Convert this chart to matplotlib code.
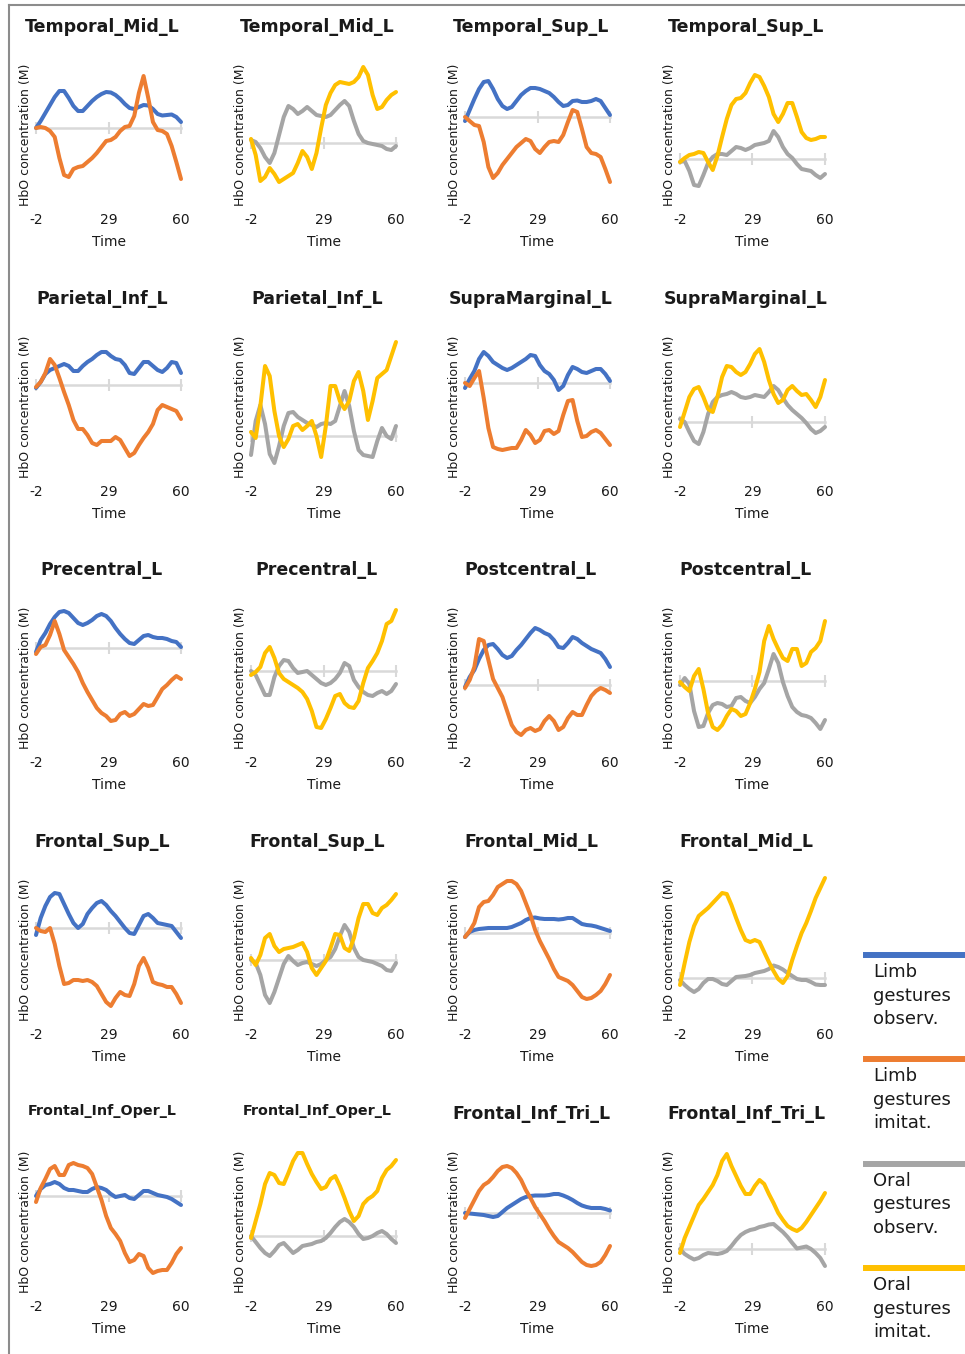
import numpy as np
import matplotlib
matplotlib.use("Agg")
import matplotlib.pyplot as plt
from matplotlib.lines import Line2D

# -----------------------------------------------------------------------------
# Data: HbO time courses (relative units), sampled every 2 s from -2 to 60 s
# -----------------------------------------------------------------------------

time = np.arange(-2, 61, 2)

temporal_mid_limb_obs = [0, 7, 15, 23, 31, 37, 37, 30, 22, 17, 17, 22, 27, 31, 34, 36,
                         35.5, 33, 29, 24, 20, 19, 21, 23, 22.5, 19, 14, 12.5, 13, 13.5, 11, 6]
temporal_mid_limb_imit = [0, 1, 0, -3, -9, -30, -47, -49, -41, -39, -38, -34, -30, -25, -19, -13,
                          -12, -9, -3, 1, 2, 12, 35, 52, 30, 6, -2, -3, -6, -18, -34, -51]
temporal_mid_oral_obs = [3, 1, -5, -14, -20, -10, 8, 26, 37, 34, 29, 32, 36, 32, 28, 27,
                         26, 28, 33, 38, 42, 37, 22, 9, 2, 0, -1, -2, -3, -6, -7, -3]
temporal_mid_oral_imit = [4, -12, -38, -34, -25, -31, -39, -36, -33, -30, -20, -8, -14, -26, -10, 15,
                          38, 50, 58, 61, 60, 59, 61, 66, 76, 68, 48, 34, 36, 43, 48, 51]

temporal_sup_limb_obs = [-4, 7, 18, 28, 35, 36, 28, 18, 11, 8, 10, 16, 22, 26, 29, 29,
                         28, 26, 24, 20, 15, 11, 12, 16, 16.5, 15, 15, 16, 18, 16, 9, 2]
temporal_sup_limb_imit = [0, -4, -8, -9, -25, -50, -61, -56, -48, -42, -36, -30, -26, -22, -24, -32,
                          -36, -30, -25, -24, -25, -18, -5, 7, 5, -12, -30, -36, -37, -40, -52, -65]
temporal_sup_oral_obs = [-3, -2, -12, -26, -27, -16, -4, 2, 5, 5, 4, 8, 12, 11, 9, 11,
                         14, 15, 16, 18, 28, 22, 12, 5, 1, -5, -10, -11, -12, -16, -19, -15]
temporal_sup_oral_imit = [-3, 1, 4, 5, 7, 6, -3, -11, 3, 22, 40, 54, 60, 61, 66, 76,
                          84, 82, 73, 62, 45, 37, 45, 56, 56, 42, 27, 21, 19, 20, 22, 22]

parietal_inf_limb_obs = [-3, 3, 11, 15, 17, 19, 21, 19, 14, 14, 19, 23, 26, 30, 33, 33,
                         29, 26, 25, 20, 12, 11, 17, 23, 23, 19, 15, 13, 17, 23, 22, 12]
parietal_inf_limb_imit = [-2, 3, 12, 26, 20, 7, -7, -20, -35, -44, -44, -50, -58, -60, -56, -56,
                          -56, -52, -55, -63, -71, -68, -60, -53, -47, -39, -25, -20, -22, -24, -26, -34]
parietal_inf_oral_obs = [-19, 15, 31, 12, -18, -27, -10, 10, 23, 24, 19, 16, 13, 11, 9, 12,
                         13, 12, 15, 30, 45, 30, 5, -14, -19, -20, -21, -5, 8, 0, -3, 10]
parietal_inf_oral_imit = [4, -2, 30, 70, 60, 25, 0, -11, -3, 10, 12, 6, 10, 15, 0, -21,
                          10, 50, 50, 35, 27, 35, 55, 64, 45, 16, 35, 58, 62, 66, 80, 94]

supramarginal_limb_obs = [-5, 4, 12, 24, 31, 27, 21, 18, 15, 13, 15, 18, 21, 24, 28, 27,
                          18, 12, 9, 3, -7, -3, 8, 16, 14, 11, 10, 12, 14, 14, 9, 2]
supramarginal_limb_imit = [0, -3, 5, 12, -15, -45, -64, -66, -67, -66, -65, -65, -57, -47, -52, -60,
                           -57, -48, -47, -51, -48, -32, -18, -17, -38, -54, -53, -49, -47, -50, -56, -62]
supramarginal_oral_obs = [3, 0, -10, -19, -22, -10, 8, 20, 25, 27, 28, 30, 28, 25, 24, 25,
                          27, 26, 25, 30, 36, 32, 24, 17, 12, 8, 4, -1, -7, -11, -9, -5]
supramarginal_oral_imit = [-5, 10, 25, 33, 35, 25, 13, 10, 25, 45, 56, 55, 50, 47, 50, 58,
                           68, 73, 60, 42, 28, 19, 22, 32, 36, 31, 27, 28, 22, 15, 25, 42]

precentral_limb_obs = [-4, 8, 15, 24, 31, 36, 37, 35, 30, 25, 23, 25, 28, 32, 34, 32,
                       27, 20, 14, 9, 5, 4, 8, 12, 13, 11, 10, 10, 9, 7, 6, 1]
precentral_limb_imit = [-6, 1, 3, 13, 27, 14, -2, -9, -16, -24, -35, -44, -52, -60, -65, -68,
                        -73, -72, -66, -64, -68, -66, -61, -56, -58, -57, -49, -41, -37, -32, -28, -31]
precentral_oral_obs = [0, -4, -14, -24, -24, -6, 5, 11, 10, 3, -2, -1, 0, -4, -8, -12,
                       -14, -12, -8, -2, 8, 5, -9, -16, -21, -24, -25, -22, -20, -23, -20, -13]
precentral_oral_imit = [-4, -1, 4, 18, 24, 13, -2, -8, -11, -14, -17, -21, -28, -40, -56, -57,
                        -48, -37, -25, -23, -32, -36, -37, -30, -12, 3, 10, 18, 30, 47, 50, 61]

postcentral_limb_obs = [-2, 8, 15, 26, 35, 40, 41, 36, 30, 27, 29, 35, 40, 46, 52, 57,
                        55, 52, 50, 45, 38, 37, 42, 48, 46, 42, 39, 36, 34, 32, 26, 18]
postcentral_limb_imit = [-3, 5, 18, 46, 44, 25, 6, -3, -12, -26, -40, -47, -50, -45, -43, -46,
                         -44, -36, -31, -36, -45, -42, -33, -27, -30, -30, -20, -11, -6, -3, -5, -8]
postcentral_oral_obs = [-4, 3, -3, -30, -46, -45, -32, -24, -22, -23, -26, -25, -17, -16, -20, -22,
                        -16, -8, -2, 12, 27, 18, -1, -15, -26, -31, -34, -35, -37, -42, -48, -39]
postcentral_oral_imit = [-1, -6, -10, 5, 12, -8, -32, -46, -49, -44, -35, -28, -30, -35, -33, -22,
                         -8, 9, 40, 55, 42, 32, 23, 20, 32, 32, 15, 18, 29, 33, 40, 60]

frontal_sup_limb_obs = [-7, 10, 22, 31, 35, 34, 24, 14, 5, 0, 4, 14, 20, 25, 27, 23,
                        17, 12, 6, 0, -5, -6, 3, 12, 14, 10, 5, 4, 3, 2, -4, -10]
frontal_sup_limb_imit = [0, -3, -4, 0, -16, -38, -56, -55, -52, -52, -53, -52, -54, -58, -66, -74,
                         -78, -70, -64, -67, -68, -56, -38, -30, -40, -54, -56, -57, -59, -59, -66, -75]
frontal_sup_oral_obs = [0, -3, -15, -35, -43, -32, -18, -4, 4, -1, -5, -3, -2, -4, -6, -4,
                        0, 3, 11, 24, 35, 28, 12, 3, 0, -1, -2, -4, -6, -10, -11, -3]
frontal_sup_oral_imit = [2, -5, 5, 22, 26, 14, 8, 11, 12, 13, 15, 17, 8, -8, -15, -8,
                         -1, 12, 26, 25, 12, 9, 22, 42, 56, 56, 47, 45, 52, 55, 60, 66]

frontal_mid_limb_obs = [-4, 1, 3, 4, 4.5, 5, 5, 5, 5, 5, 6, 8, 10, 13, 15, 15.5,
                        14.5, 14, 14, 14, 13.5, 14, 15, 15, 12, 9, 8, 7.5, 6.5, 5, 3.5, 2]
frontal_mid_limb_imit = [-4, 2, 10, 26, 31, 32, 38, 46, 49, 52, 52, 49, 42, 30, 18, 3,
                         -8, -17, -26, -36, -44, -46, -48, -52, -58, -64, -66, -65, -62, -58, -51, -42]
frontal_mid_oral_obs = [-2, -7, -11, -14, -11, -5, -1, -1, -3, -6, -7, -3, 1, 1.5, 2, 3,
                        5, 6, 7, 9, 12.5, 11, 8.5, 5, 2, -1, -2, -2, -4, -6.5, -7, -7]
frontal_mid_oral_imit = [-7, 15, 36, 52, 62, 66, 70, 75, 80, 85, 84, 73, 60, 48, 38, 36,
                         38, 36, 26, 16, 7, -1, -5, 2, 18, 32, 45, 55, 67, 80, 90, 100]

frontal_inf_oper_limb_obs = [0, 7, 11, 12, 14, 12, 8, 6, 6, 5, 4, 4, 7, 9, 8, 6,
                             2, -1, 0, 1, -2, -3, 1, 5, 5, 3, 1, 0, -1, -3, -6, -9]
frontal_inf_oper_limb_imit = [-6, 8, 17, 27, 30, 21, 21, 31, 33, 31, 30, 28, 22, 9, -4, -20,
                              -32, -38, -45, -57, -66, -64, -58, -60, -72, -77, -75, -74, -74, -67, -58, -52]
frontal_inf_oper_oral_obs = [0, -6, -12, -17, -20, -15, -9, -7, -12, -17, -14, -10, -9, -8, -6, -5,
                             -2, 3, 9, 14, 17, 14, 9, 2, -3, -2, 0, 3, 5, 2, -3, -7]
frontal_inf_oper_oral_imit = [-2, 15, 32, 52, 63, 61, 53, 52, 63, 75, 83, 83, 72, 62, 54, 47,
                              49, 57, 60, 50, 38, 25, 15, 20, 32, 37, 40, 45, 58, 66, 70, 76]

frontal_inf_tri_limb_obs = [0, -0.5, -1, -1.5, -2, -3, -4, -3, 1, 5, 8, 11, 14, 16, 17, 17.5,
                            17.5, 17.5, 18, 19, 19, 17.5, 15.5, 13, 10, 7.5, 6, 5, 5, 5, 4, 2.5]
frontal_inf_tri_limb_imit = [-5, 4, 13, 22, 28, 31, 36, 42, 46, 47, 45, 40, 33, 23, 15, 6,
                             -1, -8, -16, -23, -29, -32, -35, -39, -44, -49, -52, -53, -52, -49, -42, -33]
frontal_inf_tri_oral_obs = [0, -5, -8, -10.5, -9, -6, -4, -4.5, -5, -4, -2, 3, 9, 14, 17, 19,
                            20, 22, 23, 24.5, 25, 21, 17, 12, 6, 0.5, 1.5, 2.5, 0, -4, -9, -17]
frontal_inf_tri_oral_imit = [-4, 11, 22, 33, 44, 50, 57, 64, 74, 88, 95, 83, 73, 63, 55, 55,
                             63, 69, 65, 55, 46, 36, 29, 23, 20, 18, 21, 27, 34, 41, 48, 56]

regions = [
    ("Temporal_Mid_L", temporal_mid_limb_obs, temporal_mid_limb_imit,
     temporal_mid_oral_obs, temporal_mid_oral_imit),
    ("Temporal_Sup_L", temporal_sup_limb_obs, temporal_sup_limb_imit,
     temporal_sup_oral_obs, temporal_sup_oral_imit),
    ("Parietal_Inf_L", parietal_inf_limb_obs, parietal_inf_limb_imit,
     parietal_inf_oral_obs, parietal_inf_oral_imit),
    ("SupraMarginal_L", supramarginal_limb_obs, supramarginal_limb_imit,
     supramarginal_oral_obs, supramarginal_oral_imit),
    ("Precentral_L", precentral_limb_obs, precentral_limb_imit,
     precentral_oral_obs, precentral_oral_imit),
    ("Postcentral_L", postcentral_limb_obs, postcentral_limb_imit,
     postcentral_oral_obs, postcentral_oral_imit),
    ("Frontal_Sup_L", frontal_sup_limb_obs, frontal_sup_limb_imit,
     frontal_sup_oral_obs, frontal_sup_oral_imit),
    ("Frontal_Mid_L", frontal_mid_limb_obs, frontal_mid_limb_imit,
     frontal_mid_oral_obs, frontal_mid_oral_imit),
    ("Frontal_Inf_Oper_L", frontal_inf_oper_limb_obs, frontal_inf_oper_limb_imit,
     frontal_inf_oper_oral_obs, frontal_inf_oper_oral_imit),
    ("Frontal_Inf_Tri_L", frontal_inf_tri_limb_obs, frontal_inf_tri_limb_imit,
     frontal_inf_tri_oral_obs, frontal_inf_tri_oral_imit),
]

legend_labels = ["Limb\ngestures\nobserv.", "Limb\ngestures\nimitat.",
                 "Oral\ngestures\nobserv.", "Oral\ngestures\nimitat."]
x_ticks = [-2, 29, 60]

# -----------------------------------------------------------------------------
# Layout / style
# -----------------------------------------------------------------------------

colors = ["#4472C4", "#ED7D31", "#A5A5A5", "#FFC000"]
axis_gray = "#D9D9D9"
text_color = "#1a1a1a"

# y limits per panel (row-major), so the zero axis sits where each chart puts it
ylims = [(-82, 68), (-67, 83), (-93, 57), (-51, 99),
         (-97, 53), (-46, 104), (-99, 51), (-60, 90),
         (-105, 45), (-82, 68), (-68, 82), (-72, 78),
         (-97, 53), (-65, 85), (-92, 58), (-47, 103),
         (-101, 49), (-61, 89), (-84, 66), (-48, 102)]

W, H = 965, 1354
col_left = [36, 251, 465, 680]
row_bottom = [210, 482, 753, 1025, 1297]
plot_w, plot_h = 145, 150

plt.rcParams["font.family"] = ["DejaVu Sans"]
plt.rcParams["axes.unicode_minus"] = False
fig = plt.figure(figsize=(W / 100, H / 100), dpi=100)

# -----------------------------------------------------------------------------
# Panels
# -----------------------------------------------------------------------------

for r, (title, limb_obs, limb_imit, oral_obs, oral_imit) in enumerate(regions):
    row = r // 2
    for k in range(2):
        col = (r % 2) * 2 + k
        ax = fig.add_axes([col_left[col] / W, 1 - row_bottom[row] / H,
                           plot_w / W, plot_h / H])
        ax.patch.set_alpha(0)
        if k == 0:
            series = [(limb_obs, colors[0]), (limb_imit, colors[1])]
        else:
            series = [(oral_obs, colors[2]), (oral_imit, colors[3])]
        for vals, c in series:
            ax.plot(time, vals, color=c, lw=2.9, solid_joinstyle="round",
                    solid_capstyle="round", clip_on=False, zorder=3)

        ax.set_xlim(-2, 60)
        ax.set_ylim(*ylims[row * 4 + col])

        # zero axis with small cross ticks
        for side in ["top", "right", "left"]:
            ax.spines[side].set_visible(False)
        ax.spines["bottom"].set_position(("data", 0))
        ax.spines["bottom"].set_color(axis_gray)
        ax.spines["bottom"].set_linewidth(1.8)
        ax.set_xticks(x_ticks)
        ax.tick_params(axis="x", direction="inout", length=8, width=1.5,
                       color=axis_gray, labelbottom=False)
        ax.set_yticks([])
        ax.set_ylabel("HbO concentration (M)", fontsize=9, labelpad=3,
                      color=text_color)

        # tick labels at the bottom of the plot area
        sec = ax.secondary_xaxis("bottom")
        sec.set_xticks(x_ticks)
        sec.tick_params(length=0, pad=2, labelsize=10, labelcolor=text_color)
        sec.spines["bottom"].set_visible(False)
        sec.set_xlabel("Time", fontsize=10, labelpad=6, color=text_color)

        small = len(title) > 17
        ax.set_title(title, x=0.455, fontsize=10.3 if small else 12.5,
                     fontweight="bold", pad=23 if small else 20,
                     color=text_color)

# -----------------------------------------------------------------------------
# Legend
# -----------------------------------------------------------------------------

for i, (label, c) in enumerate(zip(legend_labels, colors)):
    y_line = 955 + i * 104.3
    fig.add_artist(Line2D([866 / W, 1], [1 - y_line / H] * 2, color=c, lw=4.3,
                          transform=fig.transFigure))
    fig.text(873 / W, 1 - (y_line + 8) / H, label, ha="left", va="top",
             fontsize=13, linespacing=1.4, color=text_color)

# frame on the left and top edges
fig.add_artist(Line2D([9 / W, 9 / W], [0, 1 - 5 / H], color="#8c8c8c", lw=1.5,
                      transform=fig.transFigure))
fig.add_artist(Line2D([9 / W, 1], [1 - 5 / H] * 2, color="#8c8c8c", lw=1.5,
                      transform=fig.transFigure))

fig.savefig("out.png", dpi=100)
